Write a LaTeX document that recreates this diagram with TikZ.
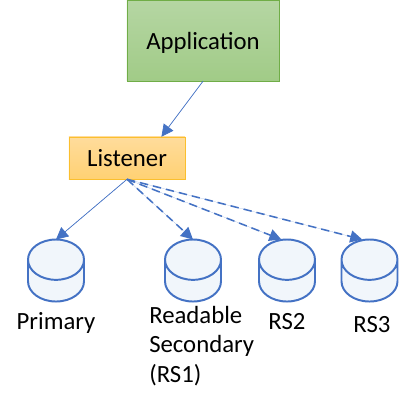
\documentclass[tikz,border=0pt]{standalone}
\usepackage{fontspec}
\setmainfont{Carlito}
\usepackage{xcolor}
\usetikzlibrary{arrows.meta, shapes.geometric}
\definecolor{linkblue}{HTML}{4472C4}
\definecolor{cylfill}{HTML}{F1F6FB}
\definecolor{appline}{HTML}{70AD47}
\definecolor{apptop}{HTML}{B5D6A3}
\definecolor{appbot}{HTML}{A1CB87}
\definecolor{lsnline}{HTML}{FBBF2E}
\definecolor{lsntop}{HTML}{FFDC9C}
\definecolor{lsnbot}{HTML}{FFD173}

\begin{document}
\begin{tikzpicture}[x=0.025cm, y=-0.025cm,
      box/.style={draw, inner sep=0pt, font=\fontsize{17.6}{20}\selectfont},
      db/.style={cylinder, shape border rotate=90, draw=linkblue, fill=cylfill,
                 line width=1.4pt, aspect=0.72, inner xsep=0.7cm, inner ysep=0.05cm,
                 minimum width=1.4cm, minimum height=1.55cm, outer sep=0pt, anchor=north},
      lbl/.style={font=\fontsize{17.6}{21}\selectfont, inner sep=0pt},
      arr/.style={-{Triangle[length=3mm, width=3mm]}, draw=linkblue, fill=linkblue, line width=0.5pt},
      darr/.style={arr, line width=1.1pt, dash pattern=on 6pt off 3.5pt}
    ]
      \useasboundingbox (0,0) rectangle (408,407);

      % top boxes
      \node[box, draw=appline, top color=apptop, bottom color=appbot, text depth=0pt,
            minimum width=3.8cm, minimum height=2.02cm] (app) at (203,40.5) {Application};
      \node[box, draw=lsnline, top color=lsntop, bottom color=lsnbot,
            minimum width=2.9cm, minimum height=1.05cm] (listener) at (127,158) {Listener};

      % databases
      \node[db] (primary) at (56,239.5) {};
      \node[db] (rs1) at (193,239.5) {};
      \node[db] (rs2) at (287,239.5) {};
      \node[db] (rs3) at (369.5,239.5) {};

      % labels
      \node[lbl] (primarylbl) at (56,323) {Primary};
      \node[lbl, align=left, anchor=north west] (rs1lbl) at (149,306) {Readable\\Secondary\\(RS1)};
      \node[lbl] (rs2lbl) at (287,322) {RS2};
      \node[lbl] (rs3lbl) at (372,325) {RS3};

      % connectors
      \draw[arr] (app.south) -- ([xshift=0.86cm]listener.north);
      \draw[arr] (listener.south) -- (primary.north);
      \draw[darr] (listener.south) -- (rs1.north);
      \draw[darr] (listener.south) -- ([xshift=-0.14cm]rs2.north);
      \draw[darr] (listener.south) -- ([xshift=-0.18cm]rs3.north);
    \end{tikzpicture}
\end{document}
